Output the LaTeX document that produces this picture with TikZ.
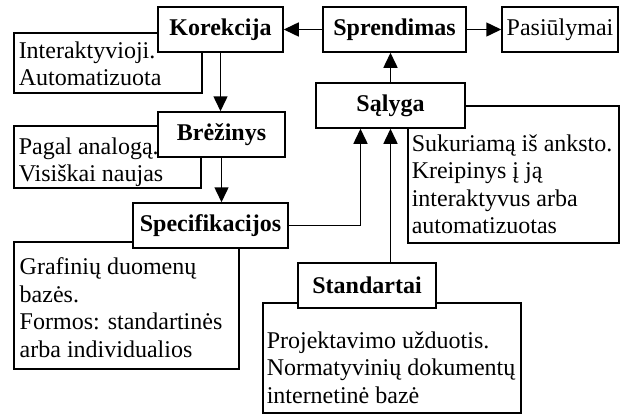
\documentclass[tikz,border=0pt]{standalone}
\usepackage{fontspec}
\setmainfont{Liberation Serif}
\usetikzlibrary{arrows.meta,positioning,calc}
\tikzset{every picture/.style={line width=1.5pt}}
\tikzset{
    mainbox/.style={draw, fill=white, minimum height=45, inner sep=0, font=\fontsize{24}{27}\selectfont\bfseries},
    infobox/.style={draw, anchor=north west, inner sep=0},
    infotext/.style={anchor=north west, inner sep=0, align=left, font=\fontsize{24}{27.5}\selectfont},
    flow/.style={-{Triangle[length=15pt,width=14pt]}}
}

\begin{document}
\begin{tikzpicture}[x=1pt, y=-1pt]
    \useasboundingbox (0,0) rectangle (623,413);

    % aprašų rėmeliai (po pagrindiniais blokais)
    \node[infobox, minimum width=188, minimum height=60] (korinfo) at (13,32) {};
    \node[infotext] (korinfotxt) at (18,41) {Interaktyvioji.\\Automatizuota};
    \node[infobox, minimum width=187, minimum height=62] (breinfo) at (13,125) {};
    \node[infotext] (breinfotxt) at (18,137) {Pagal analogą.\\Visiškai naujas};
    \node[infobox, minimum width=225, minimum height=127] (speinfo) at (13,241) {};
    \node[infotext] (speinfotxt) at (19,257) {Grafinių duomenų\\bazės.\\Formos: standartinės\\arba individualios};
    \node[infobox, minimum width=211, minimum height=137] (salinfo) at (407,105) {};
    \node[infotext] (salinfotxt) at (411,134) {Sukuriamą iš anksto.\\Kreipinys į ją\\interaktyvus arba\\automatizuotas};
    \node[infobox, minimum width=258, minimum height=110] (stainfo) at (262,302) {};
    \node[infotext] (stainfotxt) at (266,331) {Projektavimo užduotis.\\Normatyvinių dokumentų\\internetinė bazė};

    % pagrindiniai blokai
    \node[mainbox, minimum width=125] (kor) at (220.5,29.5) {Korekcija};
    \node[mainbox, minimum width=143] (spr) at (394.5,29.5) {Sprendimas};
    \node[mainbox, minimum width=116, font=\fontsize{24}{27}\selectfont] (pas) at (560,29.5) {Pasiūlymai};
    \node[mainbox, minimum width=149] (sal) at (390.5,105.5) {Sąlyga};
    \node[mainbox, minimum width=127] (bre) at (221.5,134.5) {Brėžinys};
    \node[mainbox, minimum width=155] (spe) at (210.5,225.5) {Specifikacijos};
    \node[mainbox, minimum width=138] (sta) at (367,285.5) {Standartai};

    % ryšiai
    \draw[flow] (spr) -- (kor);
    \draw[flow] (spr) -- (pas);
    \draw[flow] (sal.north) -- (sal.north |- spr.south);
    \draw[flow] (kor.south) -- (kor.south |- bre.north);
    \draw[flow] (bre.south) -- (bre.south |- spe.north);
    \draw[flow] (spe.east) -| ($(sal.south)+(-30,0)$);
    \draw[flow] (sta.north -| sal.south) -- (sal.south);

\end{tikzpicture}
\end{document}
